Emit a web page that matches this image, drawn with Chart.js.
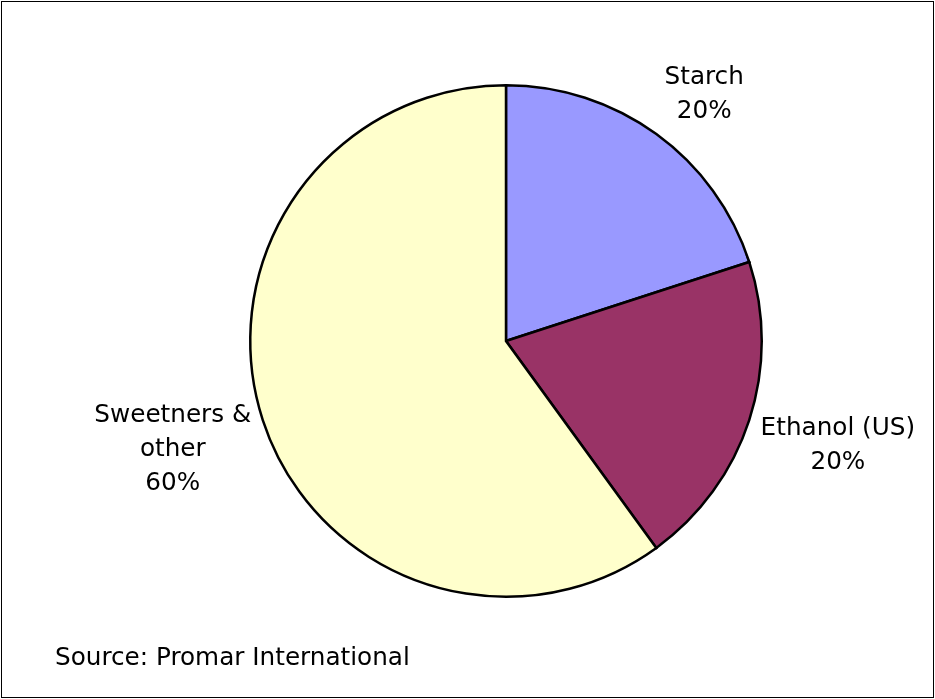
<!DOCTYPE html>
<html lang="en">
<head>
<meta charset="UTF-8">
<title>Pie</title>
<style>
  html, body { margin: 0; padding: 0; background: #fff; }
  #wrap { width: 935px; height: 699px; }
</style>
</head>
<body>
<div id="wrap"><canvas id="chartContainer" width="935" height="699"></canvas></div>
<script src="https://cdn.jsdelivr.net/npm/chart.js"></script>
<script>
const categories = ['Starch', 'Ethanol (US)', 'Sweetners & other'];
const labelLines = [['Starch', '20%'], ['Ethanol (US)', '20%'], ['Sweetners &', 'other', '60%']];
const shares = [20, 20, 60];
const colors = ['#9999FF', '#993366', '#FFFFCC'];
const sourceText = 'Source: Promar International';

const FONT = '24.7px "DejaVu Sans"';

// labels outside slices + source note + frame
const decorPlugin = {
  id: 'decor',
  afterDraw(chart) {
    const ctx = chart.ctx;
    const meta = chart.getDatasetMeta(0);
    const dist = [1.235, 1.36, 1.37];
    const tweak = [0.05, -0.01, 0];
    ctx.save();
    ctx.font = FONT;
    ctx.fillStyle = '#000';
    ctx.textAlign = 'center';
    ctx.textBaseline = 'middle';
    meta.data.forEach((arc, i) => {
      const mid = (arc.startAngle + arc.endAngle) / 2 + tweak[i];
      const r = arc.outerRadius * dist[i];
      const cx = arc.x + Math.cos(mid) * r;
      const cy = arc.y + Math.sin(mid) * r;
      const lines = labelLines[i];
      const lh = 34;
      lines.forEach((t, k) => {
        ctx.fillText(t, cx, cy + (k - (lines.length - 1) / 2) * lh);
      });
    });
    ctx.textAlign = 'left';
    ctx.fillText(sourceText, 55, 659);
    ctx.strokeStyle = '#000';
    ctx.lineWidth = 1;
    ctx.strokeRect(1.5, 1.5, 932, 696);
    ctx.restore();
  }
};

new Chart(document.getElementById('chartContainer').getContext('2d'), {
  type: 'pie',
  data: {
    labels: categories,
    datasets: [{
      data: shares,
      backgroundColor: colors,
      borderColor: '#000',
      borderWidth: 2.5,
      borderJoinStyle: 'miter'
    }]
  },
  options: {
    responsive: false,
    animation: false,
    layout: { padding: { top: 84, bottom: 101, left: 172, right: 95 } },
    plugins: {
      legend: { display: false },
      tooltip: { enabled: false }
    }
  },
  plugins: [decorPlugin]
});
</script>
</body>
</html>
